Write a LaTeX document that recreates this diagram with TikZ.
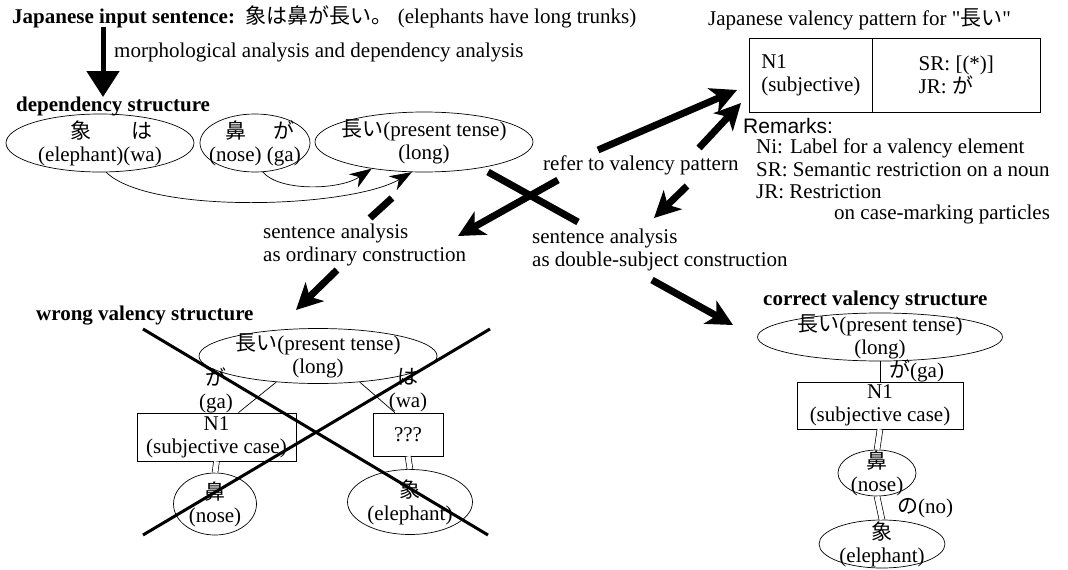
\documentclass[tikz,border=0pt]{standalone}
\usepackage{fontspec}
\setmainfont{Liberation Serif}
\newfontfamily\jp{Noto Sans CJK JP}
\newfontfamily\rmk{Liberation Sans}
\newfontfamily\qf{Liberation Serif}[Ligatures=TeXOff]
\usetikzlibrary{arrows.meta,shapes.geometric,calc}
\begin{document}
\begin{tikzpicture}[x=1pt,y=-1pt,
 every node/.style={font=\fontsize{21}{23}\selectfont, inner sep=0pt},
 ell/.style 2 args={draw, ellipse, minimum width=#1pt, minimum height=#2pt, inner sep=0pt, line width=0.7pt},
 box/.style={draw, rectangle, align=center, line width=0.7pt},
 lbl/.style={anchor=west, align=left},
 fat/.style={line width=7pt, -{Stealth[length=26pt,width=26pt,inset=7pt]}},
 fatseg/.style={line width=7pt},
 thin/.style={line width=0.7pt},
 thinarr/.style={line width=0.7pt, -{Stealth[length=22pt,width=16pt,inset=7pt]}},
 dbl/.style={double, double distance=5pt, line width=0.7pt},
 crossline/.style={line width=3pt}
]
\useasboundingbox[fill=white] (0,0) rectangle (1068,570);

% title
\node[lbl] (title) at (12,17) {\textbf{Japanese input sentence:}\ \ {\jp 象は鼻が長い。}\ (elephants have long trunks)};
\node[lbl] (morph) at (114,52) {morphological analysis and dependency analysis};
\coordinate (a0) at (103,27); \coordinate (a1) at (103,97);
\draw[line width=5pt, -{Triangle[length=26pt,width=32pt]}] (a0) -- (a1);
\node[lbl] (dep) at (16,106) {\textbf{dependency structure}};

% dependency ellipses
\node[ell={188}{58}, label={[align=center]center:{\makebox[85pt]{\jp 象}\makebox[39pt]{\jp は}\\(elephant)(wa)}}] (e1) at (100,143) {};
\node[ell={110}{58}, label={[align=center]center:{\makebox[53pt]{\jp 鼻}\makebox[5pt]{}\makebox[34pt]{\jp が}\\(nose)\ (ga)}}] (e2) at (255,143) {};
\node[ell={218}{60}, label={[align=center]center:{{\jp 長い}(present tense)\\(long)}}] (e3) at (424,142) {};
\draw[thinarr] (e1.282) .. controls (150,215) and (350,208) .. (e3.248);
\draw[thinarr] (e2.285) .. controls (280,192) and (340,190) .. (e3.207);

% ordinary construction path
\coordinate (o1) at (392,198); \coordinate (o2) at (370,218);
\draw[fatseg] (o1) -- (o2);
\node[lbl] (sa1) at (263,245) {sentence analysis\\as ordinary construction};
\coordinate (o3) at (337,270); \coordinate (o4) at (296,310);
\draw[fat] (o3) -- (o4);

% cross near e3
\coordinate (x1) at (488,172); \coordinate (x2) at (578,222);
\draw[fatseg] (x1) -- (x2);
\coordinate (x3) at (558,180); \coordinate (x4) at (458,236);
\draw[fat] (x3) -- (x4);

% refer to valency pattern
\node[lbl] (ref) at (543,165) {refer to valency pattern};
\coordinate (r1) at (598,150); \coordinate (r2) at (737,90);
\draw[fat] (r1) -- (r2);
\coordinate (r3) at (699,148); \coordinate (r4) at (741,103);
\draw[fat] (r3) -- (r4);
\coordinate (r5) at (687,186); \coordinate (r6) at (654,218);
\draw[fat] (r5) -- (r6);

% double-subject path
\node[lbl] (sa2) at (532,250) {sentence analysis\\as double-subject construction};
\coordinate (d1) at (652,280); \coordinate (d2) at (733,325);
\draw[fat] (d1) -- (d2);

% valency pattern
\node[lbl] (vpt) at (708,19) {Japanese valency pattern for {\qf "}{\jp 長い}{\qf "}};
\node[box, minimum width=123pt, minimum height=74pt, anchor=north west, align=left] (vpL) at (749,38) {N1\\(subjective)};
\node[box, minimum width=168pt, minimum height=74pt, anchor=north west, align=left] (vpR) at (872,38) {SR: [(*)]\\JR: {\jp が}};
\node[lbl, font=\rmk\fontsize{21}{23}\selectfont] (rem) at (743,126) {Remarks:};
\node[lbl] (rem1) at (756,148) {Ni: Label for a valency element};
\node[lbl] (rem2) at (756,170) {SR: Semantic restriction on a noun};
\node[lbl] (rem3) at (756,192) {JR: Restriction};
\node[lbl] (rem4) at (834,214) {on case-marking particles};

% wrong valency structure
\node[lbl] (wt) at (36,316) {\textbf{wrong valency structure}};
\node[ell={238}{55}, label={[align=center]center:{{\jp 長い}(present tense)\\(long)}}] (wE) at (318,356) {};
\node[box, minimum width=159pt, minimum height=48pt] (wN1) at (216.5,437) {N1\\(subjective case)};
\node[box, minimum width=70pt, minimum height=43pt] (wQ) at (408,434.5) {???};
\node[ell={83}{62}, label={[align=center]center:{{\jp 鼻}\\(nose)}}] (wNose) at (215,504) {};
\node[ell={125}{65}, label={[align=center]center:{{\jp 象}\\(elephant)}}] (wEl) at (410,502) {};
\draw[thin] (wE.212) -- (wN1.48);
\draw[thin] (wE.328) -- (wQ.121);
\node[align=center] (wga) at (216,390) {{\jp が}\\(ga)};
\node[align=center] (wwa) at (408,390) {{\jp は}\\(wa)};
\draw[dbl] (wN1.south) -- (wNose.north);
\draw[dbl] (wQ.south) -- (wEl.north);
\coordinate (c1) at (143,329); \coordinate (c2) at (488,535);
\coordinate (c3) at (143,535); \coordinate (c4) at (490,329);
\draw[crossline] (c1) -- (c2);
\draw[crossline] (c3) -- (c4);

% correct valency structure
\node[lbl] (ct) at (763,300) {\textbf{correct valency structure}};
\node[ell={245}{48}, label={[align=center]center:{{\jp 長い}(present tense)\\(long)}}] (cE) at (880,337) {};
\node[box, minimum width=166pt, minimum height=47pt] (cN1) at (880,405.5) {N1\\(subjective case)};
\node[ell={78}{46}, label={[align=center]center:{{\jp 鼻}\\(nose)}}] (cNose) at (877,473) {};
\node[ell={126}{48}, label={[align=center]center:{{\jp 象}\\(elephant)}}] (cEl) at (882,544) {};
\draw[thin] (cE.south) -- (cN1.north);
\node[lbl] (cga) at (889,371) {{\jp が}(ga)};
\draw[dbl] (cN1.south) -- (cNose.north);
\draw[dbl] (cNose.south) -- (cEl.north);
\node[lbl] (cno) at (897,508) {{\jp の}(no)};
\end{tikzpicture}
\end{document}
